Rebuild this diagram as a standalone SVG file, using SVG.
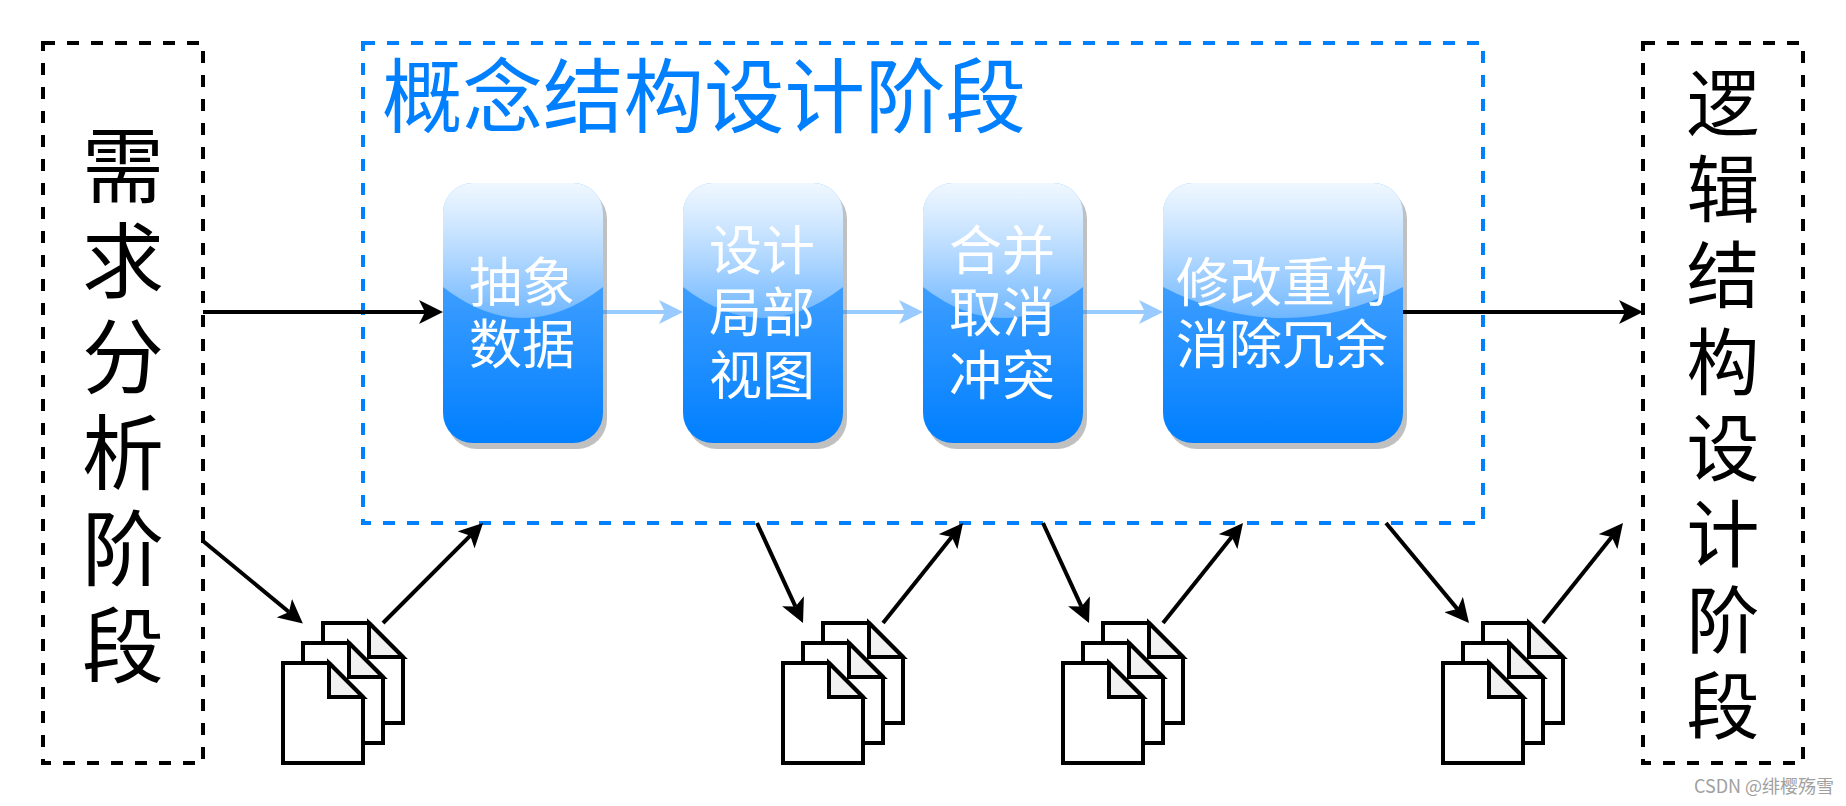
<svg xmlns="http://www.w3.org/2000/svg" width="1846" height="806" viewBox="0 0 1846 806">
<style>
text{font-family:"Noto Sans CJK SC","Noto Sans CJK TC",sans-serif;text-anchor:middle}
.frame{fill:none;stroke:#000;stroke-width:4;stroke-dasharray:12 12}
.big{font-size:82px;fill:#000}
.big2{font-size:73px;fill:#000}
.title{font-size:80.5px;fill:#007fff;text-anchor:start}
.lbl{font-size:53px;fill:#fff}
.k{fill:none;stroke:#000;stroke-width:4;marker-end:url(#ah)}
.b{fill:none;stroke:#007fff;stroke-width:4;opacity:.4;marker-end:url(#ahb)}
.shadow{fill:#c0c0c0}
.base{fill:url(#g)}
.p{fill:#fff;stroke:#000;stroke-width:4}
.f{fill:#f1f1f1;stroke:#000;stroke-width:4}
</style>
<defs>
<linearGradient id="g" x1="0" y1="0" x2="0" y2="1"><stop offset="0" stop-color="#66b2ff"/><stop offset="1" stop-color="#007fff"/></linearGradient>
<linearGradient id="w" x1="0" y1="0" x2="0" y2="1"><stop offset="0" stop-color="#fff" stop-opacity=".9"/><stop offset="1" stop-color="#fff" stop-opacity=".3"/></linearGradient>
<marker id="ah" markerUnits="userSpaceOnUse" markerWidth="24" markerHeight="24" viewBox="0 0 24 24" refX="6" refY="12" orient="auto"><path d="M0 0L24 12L0 24L6 12Z" fill="#000"/></marker>
<marker id="ahb" markerUnits="userSpaceOnUse" markerWidth="24" markerHeight="24" viewBox="0 0 24 24" refX="6" refY="12" orient="auto"><path d="M0 0L24 12L0 24L6 12Z" fill="#007fff"/></marker>
<g id="stack"><path class="p" d="M40 0H86L120 34V100H40Z"/><path class="f" d="M86 0L120 34H86Z"/><path class="p" d="M20 20H66L100 54V120H20Z"/><path class="f" d="M66 20L100 54H66Z"/><path class="p" d="M0 40H46L80 74V140H0Z"/><path class="f" d="M46 40L80 74H46Z"/></g>
</defs>
<rect width="1846" height="806" fill="#fff"/>
<g id="req"><rect class="frame" x="43" y="43" width="160" height="720"/>
<g class="big"><text x="123" y="196">需</text><text x="123" y="291">求</text><text x="123" y="387">分</text><text x="123" y="483">析</text><text x="123" y="579">阶</text><text x="123" y="676">段</text></g></g>
<g id="concept"><rect class="frame" x="363" y="43" width="1120" height="480" style="stroke:#007fff"/><text class="title" x="382" y="126">概念结构设计阶段</text></g>
<g id="logic"><rect class="frame" x="1643" y="43" width="160" height="720"/>
<g class="big2"><text x="1723" y="130">逻</text><text x="1723" y="216">辑</text><text x="1723" y="302">结</text><text x="1723" y="389">构</text><text x="1723" y="475">设</text><text x="1723" y="561">计</text><text x="1723" y="647">阶</text><text x="1723" y="733">段</text></g></g>
<g id="n1"><rect class="shadow" x="447" y="189" width="160" height="260" rx="30"/><rect class="base" x="443" y="183" width="160" height="260" rx="30"/><path fill="url(#w)" d="M473 183H573A30 30 0 0 1 603 213V287Q523 349 443 287V213A30 30 0 0 1 473 183Z"/><g class="lbl"><text x="522" y="302">抽象</text><text x="522" y="364">数据</text></g></g>
<g id="n2"><rect class="shadow" x="687" y="189" width="160" height="260" rx="30"/><rect class="base" x="683" y="183" width="160" height="260" rx="30"/><path fill="url(#w)" d="M713 183H813A30 30 0 0 1 843 213V287Q763 349 683 287V213A30 30 0 0 1 713 183Z"/><g class="lbl"><text x="762" y="270">设计</text><text x="762" y="332">局部</text><text x="762" y="395">视图</text></g></g>
<g id="n3"><rect class="shadow" x="927" y="189" width="160" height="260" rx="30"/><rect class="base" x="923" y="183" width="160" height="260" rx="30"/><path fill="url(#w)" d="M953 183H1053A30 30 0 0 1 1083 213V287Q1003 349 923 287V213A30 30 0 0 1 953 183Z"/><g class="lbl"><text x="1002" y="270">合并</text><text x="1002" y="332">取消</text><text x="1002" y="395">冲突</text></g></g>
<g id="n4"><rect class="shadow" x="1167" y="189" width="240" height="260" rx="30"/><rect class="base" x="1163" y="183" width="240" height="260" rx="30"/><path fill="url(#w)" d="M1193 183H1373A30 30 0 0 1 1403 213V287Q1283 349 1163 287V213A30 30 0 0 1 1193 183Z"/><g class="lbl"><text x="1282" y="302">修改重构</text><text x="1282" y="364">消除冗余</text></g></g>
<g id="doc1"><use href="#stack" x="283" y="623"/></g>
<g id="doc2"><use href="#stack" x="783" y="623"/></g>
<g id="doc3"><use href="#stack" x="1063" y="623"/></g>
<g id="doc4"><use href="#stack" x="1443" y="623"/></g>
<g id="connectors">
<path class="k" d="M203 312H425"/>
<path class="b" d="M603 312H665"/>
<path class="b" d="M843 312H905"/>
<path class="b" d="M1083 312H1145"/>
<path class="k" d="M1403 312H1625"/>
<path class="k" d="M203 541L289 612"/>
<path class="k" d="M383 623L470.3 535.7"/>
<path class="k" d="M757 523L795.5 606.6"/>
<path class="k" d="M883 623L951.75 537"/>
<path class="k" d="M1043 523L1081.5 606.6"/>
<path class="k" d="M1163 623L1231.75 537"/>
<path class="k" d="M1386 523L1457.5 609.1"/>
<path class="k" d="M1543 623L1611.75 537"/>
</g>
<text x="1764" y="793" style="font-size:18px;fill:#a0a0a0">CSDN @绯樱殇雪</text>
</svg>
